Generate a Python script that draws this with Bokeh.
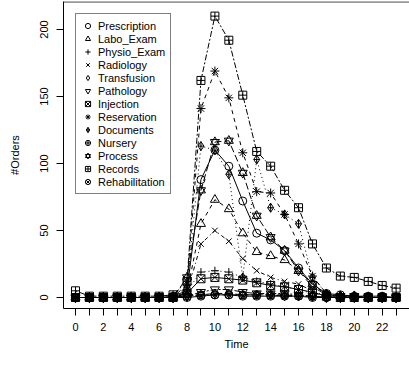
from bokeh.plotting import figure
from bokeh.models import FixedTicker, Legend, LegendItem, Span
from bokeh.embed import file_html
from bokeh.resources import INLINE

hours = list(range(24))

prescription   = [0, 0, 0, 0, 0, 0, 0, 1, 5, 88, 110, 98, 72, 48, 43, 35, 22, 10, 3, 2, 1, 1, 1, 0]
labo_exam      = [0, 0, 0, 0, 0, 0, 0, 0, 4, 55, 73, 66, 48, 34, 31, 28, 20, 8, 2, 1, 1, 0, 0, 0]
physio_exam    = [0, 0, 0, 0, 0, 0, 0, 0, 5, 19, 20, 19, 15, 12, 10, 8, 6, 3, 1, 0, 0, 0, 0, 0]
radiology      = [0, 0, 0, 0, 0, 0, 0, 0, 3, 40, 50, 42, 29, 20, 15, 12, 10, 5, 1, 0, 0, 0, 0, 0]
transfusion    = [0, 0, 0, 0, 0, 0, 0, 0, 1, 2, 3, 3, 2, 2, 2, 1, 1, 1, 0, 0, 0, 0, 0, 0]
pathology      = [0, 0, 0, 0, 0, 0, 0, 0, 1, 4, 6, 6, 4, 3, 3, 3, 2, 1, 0, 0, 0, 0, 0, 0]
injection      = [0, 0, 0, 0, 0, 0, 0, 0, 3, 14, 15, 14, 13, 11, 9, 8, 6, 4, 1, 0, 0, 0, 0, 0]
reservation    = [0, 0, 0, 0, 0, 0, 0, 0, 10, 141, 169, 149, 108, 79, 78, 62, 40, 16, 3, 1, 1, 0, 0, 0]
documents      = [0, 0, 0, 0, 0, 0, 0, 0, 8, 113, 110, 92, 15, 103, 67, 62, 55, 15, 3, 1, 0, 0, 0, 0]
nursery        = [0, 0, 0, 0, 0, 0, 0, 0, 1, 2, 2, 2, 2, 2, 2, 2, 1, 1, 0, 0, 0, 0, 0, 0]
process        = [0, 0, 0, 0, 0, 0, 0, 0, 15, 80, 116, 117, 93, 61, 45, 35, 20, 10, 2, 1, 1, 0, 0, 0]
records        = [5, 1, 1, 1, 1, 1, 1, 2, 12, 162, 210, 192, 151, 109, 98, 80, 67, 40, 22, 16, 15, 12, 9, 7]
rehabilitation = [0, 0, 0, 0, 0, 0, 0, 0, 0, 1, 2, 2, 1, 1, 1, 1, 1, 0, 0, 0, 0, 0, 0, 0]

series_names = ["Prescription", "Labo_Exam", "Physio_Exam", "Radiology", "Transfusion",
                "Pathology", "Injection", "Reservation", "Documents", "Nursery",
                "Process", "Records", "Rehabilitation"]
series_values = [prescription, labo_exam, physio_exam, radiology, transfusion, pathology,
                 injection, reservation, documents, nursery, process, records, rehabilitation]

y_ticks = [0, 50, 100, 150, 200]
x_ticks = hours
x_tick_labels = {h: (str(h) if h % 2 == 0 else "") for h in hours}

markers = ["circle", "triangle", "cross", "x", "diamond", "inverted_triangle", "square_x",
           "asterisk", "diamond_cross", "circle_cross", "star_david", "square_cross", "circle_x"]
marker_sizes = {"circle": 8, "triangle": 9, "cross": 8, "x": 8, "diamond": 9,
                "inverted_triangle": 9, "square_x": 8, "asterisk": 9, "diamond_cross": 9,
                "circle_cross": 8, "star_david": 9, "square_cross": 8, "circle_x": 8}
dashes = ["solid", "4 4", "1 3", "1 3 4 3", "7 3", "2 2 6 2"]

FONT = "Liberation Sans"
Y_END = 220.9

p = figure(width=409, height=365, x_range=(-0.86, 23.96), y_range=(-8.2, Y_END),
           output_backend="svg", toolbar_location=None,
           min_border_left=63, min_border_right=0, min_border_top=1, min_border_bottom=57)
p.outline_line_color = None
p.xgrid.visible = False
p.ygrid.visible = False

items = []
for i, (name, vals) in enumerate(zip(series_names, series_values)):
    dash = dashes[i % 6]
    p.line(hours, vals, line_color="black", line_width=1, line_dash=dash)
    m = markers[i]
    s = marker_sizes[m]
    rs = []
    if m == "star_david":
        rs.append(p.scatter(hours, vals, marker="triangle", size=s, line_color="black",
                            fill_color=None, line_width=1))
        rs.append(p.scatter(hours, vals, marker="inverted_triangle", size=s, line_color="black",
                            fill_color=None, line_width=1))
    else:
        rs.append(p.scatter(hours, vals, marker=m, size=s, line_color="black",
                            fill_color=None, line_width=1))
    items.append(LegendItem(label=name, renderers=rs))

legend = Legend(items=items, location=(12, 114))
legend.border_line_color = "black"
legend.border_line_width = 1
legend.background_fill_color = "white"
legend.background_fill_alpha = 1
legend.label_text_font = FONT
legend.label_text_font_size = "11px"
legend.label_text_color = "black"
legend.glyph_width = 13
legend.glyph_height = 13
legend.label_height = 13
legend.spacing = 0
legend.padding = 5
legend.label_standoff = 4
legend.margin = 0
p.add_layout(legend)

p.add_layout(Span(location=Y_END - 0.3, dimension="width", line_color="black", line_width=1))

p.xaxis.ticker = FixedTicker(ticks=x_ticks)
p.xaxis.major_label_overrides = x_tick_labels
p.yaxis.ticker = FixedTicker(ticks=y_ticks)
p.yaxis.major_label_orientation = "vertical"
p.xaxis.axis_label = "Time"
p.yaxis.axis_label = "#Orders"

for ax in (p.xaxis, p.yaxis):
    ax.axis_line_color = "black"
    ax.major_tick_line_color = "black"
    ax.minor_tick_line_color = None
    ax.major_tick_out = 7
    ax.major_tick_in = 0
    ax.major_label_text_font = FONT
    ax.major_label_text_font_size = "11px"
    ax.major_label_text_color = "black"
    ax.axis_label_text_font = FONT
    ax.axis_label_text_font_size = "11px"
    ax.axis_label_text_font_style = "normal"
    ax.axis_label_text_color = "black"

p.xaxis.major_label_standoff = 7
p.xaxis.axis_label_standoff = 4
p.yaxis.major_label_standoff = 8
p.yaxis.axis_label_standoff = 17

open("out.html", "w").write(file_html(p, INLINE))
